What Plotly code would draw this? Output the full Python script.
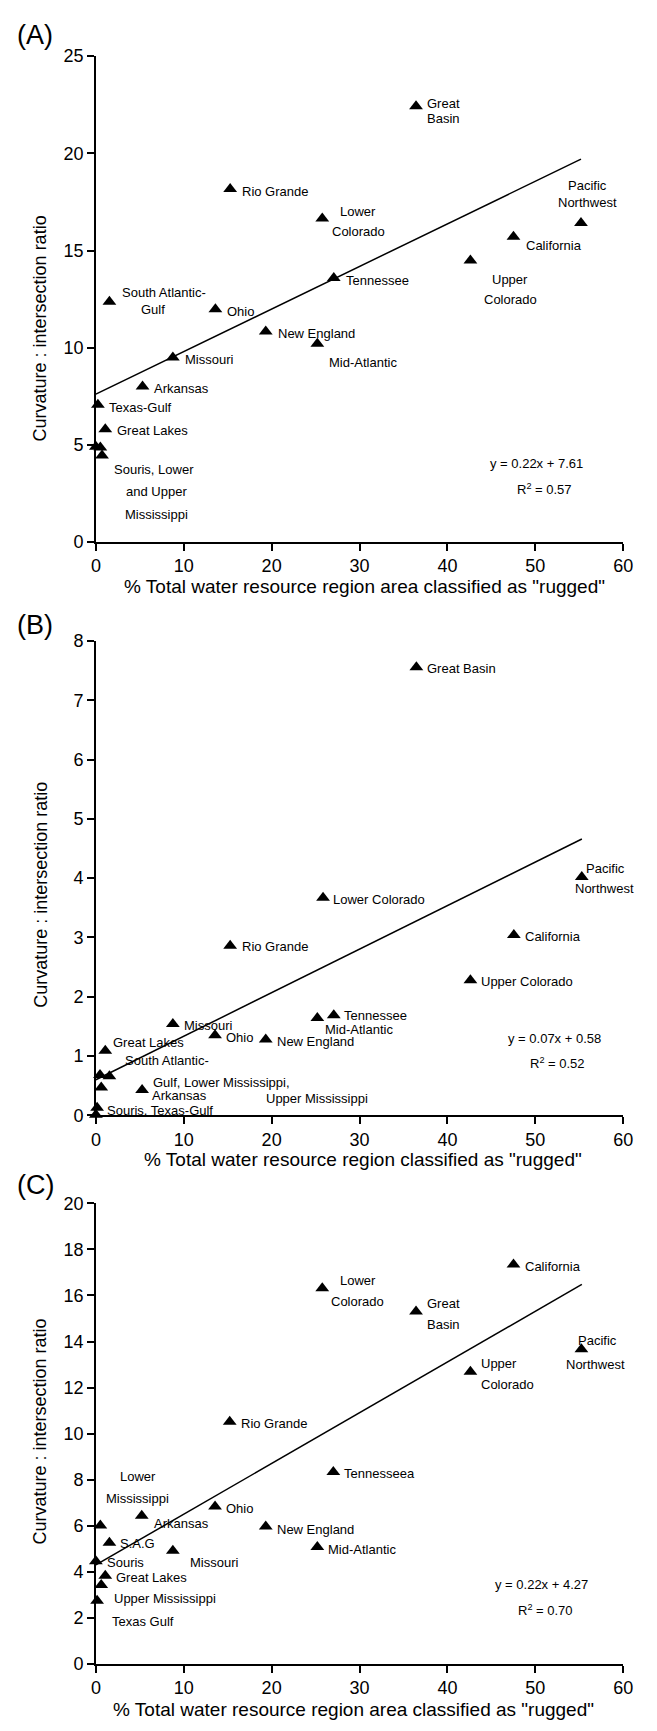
import plotly.graph_objects as go

W, H = 657, 1731
FONT = "Liberation Sans, Arial, sans-serif"

# ---------------- data ----------------
a_names = ["Great Basin", "Rio Grande", "Lower Colorado", "Pacific Northwest", "California",
           "Upper Colorado", "Tennessee", "South Atlantic-Gulf", "Ohio", "New England",
           "Mid-Atlantic", "Missouri", "Arkansas", "Texas-Gulf", "Great Lakes",
           "Souris", "Lower Mississippi", "Upper Mississippi"]
a_x = [36.43, 15.28, 25.76, 55.20, 47.52, 42.62, 27.07, 1.54, 13.60, 19.33,
       25.20, 8.76, 5.31, 0.23, 1.07, 0.0, 0.51, 0.70]
a_y = [22.42, 18.17, 16.65, 16.42, 15.71, 14.49, 13.59, 12.37, 11.98, 10.84,
       10.20, 9.49, 8.00, 7.07, 5.81, 4.91, 4.86, 4.45]

b_names = ["Great Basin", "Pacific Northwest", "Lower Colorado", "Rio Grande", "California",
           "Upper Colorado", "Tennessee", "Mid-Atlantic", "Missouri", "Ohio", "New England",
           "Great Lakes", "Lower Mississippi", "South Atlantic-Gulf", "Upper Mississippi",
           "Arkansas", "Texas-Gulf", "Souris"]
b_x = [36.47, 55.29, 25.85, 15.28, 47.56, 42.62, 27.07, 25.20, 8.76, 13.56, 19.33,
       1.07, 0.47, 1.54, 0.61, 5.26, 0.14, 0.0]
b_y = [7.555, 4.02, 3.67, 2.86, 3.04, 2.28, 1.69, 1.64, 1.54, 1.35, 1.28,
       1.09, 0.68, 0.66, 0.47, 0.43, 0.13, 0.01]

c_names = ["California", "Lower Colorado", "Great Basin", "Pacific Northwest", "Upper Colorado",
           "Rio Grande", "Tennesseea", "Ohio", "Arkansas", "Lower Mississippi", "New England",
           "S.A.G", "Mid-Atlantic", "Missouri", "Souris", "Great Lakes",
           "Upper Mississippi", "Texas Gulf"]
c_x = [47.52, 25.76, 36.43, 55.25, 42.62, 15.23, 27.02, 13.56, 5.22, 0.51, 19.33,
       1.54, 25.20, 8.76, 0.0, 1.07, 0.61, 0.14]
c_y = [17.34, 16.31, 15.30, 13.66, 12.69, 10.52, 8.34, 6.84, 6.44, 6.01, 5.97,
       5.26, 5.08, 4.92, 4.46, 3.83, 3.43, 2.75]

a_trend_x, a_trend_y = [0, 55.2], [7.61, 19.7]
b_trend_x, b_trend_y = [0, 55.3], [0.60, 4.66]
c_trend_x, c_trend_y = [0, 55.3], [4.30, 16.48]

x_ticks = [0, 10, 20, 30, 40, 50, 60]
a_y_ticks = [0, 5, 10, 15, 20, 25]
b_y_ticks = [0, 1, 2, 3, 4, 5, 6, 7, 8]
c_y_ticks = [0, 2, 4, 6, 8, 10, 12, 14, 16, 18, 20]

x_title_a = '% Total water resource region area classified as "rugged"'
x_title_b = '% Total water resource region classified as "rugged"'
y_title = "Curvature : intersection ratio"

# point labels: (text, x, y, anchor)  -- one entry per text line
a_labels = [
    ("Great", 37.5, 22.54, "left"), ("Basin", 37.5, 21.77, "left"),
    ("Rio Grande", 16.44, 18.03, "left"),
    ("Lower", 29.86, 17.0, "center"), ("Colorado", 29.86, 15.98, "center"),
    ("Pacific", 55.99, 18.33, "center"), ("Northwest", 55.99, 17.49, "center"),
    ("California", 48.68, 15.25, "left"),
    ("Upper", 47.14, 13.50, "center"), ("Colorado", 47.14, 12.49, "center"),
    ("Tennessee", 28.18, 13.47, "left"),
    ("South Atlantic-", 2.70, 12.83, "left"), ("Gulf", 6.52, 11.95, "center"),
    ("Ohio", 14.67, 11.86, "left"),
    ("New England", 20.50, 10.73, "left"),
    ("Mid-Atlantic", 26.32, 9.23, "left"),
    ("Missouri", 9.92, 9.37, "left"),
    ("Arkansas", 6.38, 7.88, "left"),
    ("Texas-Gulf", 1.30, 6.93, "left"),
    ("Great Lakes", 2.19, 5.72, "left"),
    ("Souris, Lower", 6.66, 3.76, "center"), ("and Upper", 6.94, 2.59, "center"),
    ("Mississippi", 6.89, 1.44, "center"),
    ("y = 0.22x + 7.61", 50.19, 4.03, "center"), ("R<sup>2</sup> = 0.57", 51.0, 2.71, "center"),
]
b_labels = [
    ("Great Basin", 37.5, 7.54, "left"),
    ("Pacific", 57.95, 4.16, "center"), ("Northwest", 57.93, 3.82, "center"),
    ("Lower Colorado", 26.79, 3.64, "left"),
    ("Rio Grande", 16.35, 2.84, "left"),
    ("California", 48.59, 3.02, "left"),
    ("Upper Colorado", 43.56, 2.26, "left"),
    ("Tennessee", 28.0, 1.69, "left"),
    ("Mid-Atlantic", 25.85, 1.455, "left"),
    ("Missouri", 9.78, 1.51, "left"),
    ("Ohio", 14.53, 1.32, "left"),
    ("New England", 20.36, 1.25, "left"),
    ("Great Lakes", 1.72, 1.23, "left"),
    ("South Atlantic-", 3.03, 0.93, "left"),
    ("Gulf, Lower Mississippi,", 6.29, 0.555, "left"),
    ("Arkansas", 6.20, 0.33, "left"),
    ("Upper Mississippi", 19.10, 0.28, "left"),
    ("Souris, Texas-Gulf", 1.02, 0.09, "left"),
    ("y = 0.07x + 0.58", 52.22, 1.29, "center"), ("R<sup>2</sup> = 0.52", 52.57, 0.88, "center"),
]
c_labels = [
    ("California", 48.59, 17.24, "left"),
    ("Lower", 29.81, 16.67, "center"), ("Colorado", 29.77, 15.73, "center"),
    ("Great", 37.5, 15.67, "left"), ("Basin", 37.5, 14.76, "left"),
    ("Pacific", 57.11, 14.05, "center"), ("Northwest", 56.83, 12.99, "center"),
    ("Upper", 43.65, 13.05, "left"), ("Colorado", 43.65, 12.13, "left"),
    ("Rio Grande", 16.30, 10.44, "left"),
    ("Tennesseea", 28.0, 8.25, "left"),
    ("Ohio", 14.58, 6.75, "left"),
    ("Arkansas", 6.38, 6.12, "left"),
    ("Lower", 4.82, 8.15, "center"), ("Mississippi", 4.73, 7.19, "center"),
    ("New England", 20.40, 5.86, "left"),
    ("S.A.G", 2.56, 5.22, "left"),
    ("Mid-Atlantic", 26.23, 4.98, "left"),
    ("Missouri", 10.48, 4.39, "left"),
    ("Souris", 1.02, 4.39, "left"),
    ("Great Lakes", 2.10, 3.76, "left"),
    ("Upper Mississippi", 1.86, 2.83, "left"),
    ("Texas Gulf", 1.63, 1.86, "left"),
    ("y = 0.22x + 4.27", 50.71, 3.46, "center"), ("R<sup>2</sup> = 0.70", 51.19, 2.34, "center"),
]

# ---------------- layout geometry (pixels) ----------------
X_LEFT, X_RIGHT = 93.0, 632.6
panels = [
    dict(tag="(A)", names=a_names, x=a_x, y=a_y, tx=a_trend_x, ty=a_trend_y,
         yr=[0, 25], yt=a_y_ticks, top=46.7, bot=538.3, labels=a_labels,
         xtitle=x_title_a, xt_pos=(367.9, 583), yt_pos=(36, 322), letter_y=25),
    dict(tag="(B)", names=b_names, x=b_x, y=b_y, tx=b_trend_x, ty=b_trend_y,
         yr=[0, 8], yt=b_y_ticks, top=638.3, bot=1118.3, labels=b_labels,
         xtitle=x_title_b, xt_pos=(366.8, 1163), yt_pos=(36, 895), letter_y=622.5),
    dict(tag="(C)", names=c_names, x=c_x, y=c_y, tx=c_trend_x, ty=c_trend_y,
         yr=[0, 20], yt=c_y_ticks, top=1207.3, bot=1673.3, labels=c_labels,
         xtitle=x_title_a, xt_pos=(357, 1719), yt_pos=(36, 1438), letter_y=1189),
]

def px(x):
    return x / W

def py(y):
    return 1 - y / H

fig = go.Figure()
annotations = []
layout = dict(
    width=W, height=H, margin=dict(l=0, r=0, t=0, b=0),
    paper_bgcolor="white", plot_bgcolor="white", showlegend=False,
    font=dict(family=FONT, color="black"),
)

for i, p in enumerate(panels, start=1):
    xa = "x" if i == 1 else f"x{i}"
    ya = "y" if i == 1 else f"y{i}"
    fig.add_trace(go.Scatter(
        x=p["tx"], y=p["ty"], mode="lines", xaxis=xa, yaxis=ya,
        line=dict(color="black", width=1.5), hoverinfo="skip", cliponaxis=False))
    fig.add_trace(go.Scatter(
        x=p["x"], y=p["y"], mode="markers", xaxis=xa, yaxis=ya, text=p["names"],
        marker=dict(symbol="triangle-up", size=12, color="black"), cliponaxis=False))

    axis_common = dict(showline=True, linecolor="black", linewidth=1.5, ticks="outside",
                       ticklen=7, tickwidth=1.5, tickcolor="black", showgrid=False,
                       zeroline=False, tickfont=dict(family=FONT, size=18, color="black"))
    layout["xaxis" if i == 1 else f"xaxis{i}"] = dict(
        axis_common, domain=[px(X_LEFT), px(X_RIGHT)], range=[0, 60],
        tickvals=x_ticks, anchor=ya)
    layout["yaxis" if i == 1 else f"yaxis{i}"] = dict(
        axis_common, domain=[py(p["bot"]), py(p["top"])], range=p["yr"],
        tickvals=p["yt"], anchor=xa)

    for text, lx, ly, anc in p["labels"]:
        annotations.append(dict(
            text=text, x=lx, y=ly, xref=xa, yref=ya, xanchor=anc, yanchor="middle",
            showarrow=False, font=dict(family=FONT, size=13, color="black")))

    annotations.append(dict(
        text=p["xtitle"], x=px(p["xt_pos"][0]), y=py(p["xt_pos"][1]), xref="paper",
        yref="paper", xanchor="center", yanchor="middle", showarrow=False,
        font=dict(family=FONT, size=19, color="black")))
    annotations.append(dict(
        text=y_title, x=px(p["yt_pos"][0]), y=py(p["yt_pos"][1]), xref="paper",
        yref="paper", xanchor="center", yanchor="middle", showarrow=False, textangle=-90,
        font=dict(family=FONT, size=18, color="black")))
    annotations.append(dict(
        text=p["tag"], x=px(31), y=py(p["letter_y"]), xref="paper", yref="paper",
        xanchor="center", yanchor="middle", showarrow=False,
        font=dict(family=FONT, size=27, color="black")))

layout["annotations"] = annotations
fig.update_layout(**layout)
fig.write_html("out.html")
